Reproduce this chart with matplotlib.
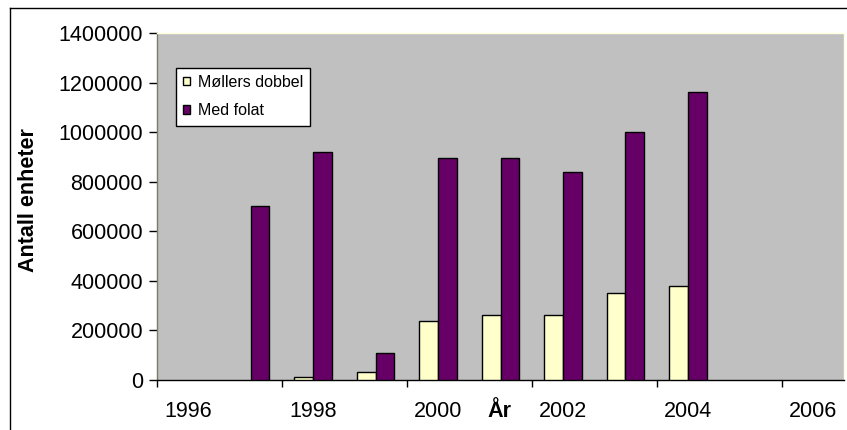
import matplotlib

matplotlib.use("Agg")
import matplotlib.pyplot as plt
import numpy as np
from matplotlib.lines import Line2D
from matplotlib.ticker import FixedLocator, NullFormatter

plt.rcParams["font.family"] = ["Liberation Sans", "DejaVu Sans"]

# Data
years = [1997, 1998, 1999, 2000, 2001, 2002, 2003, 2004]
mollers_dobbel = [np.nan, 12000, 31000, 238000, 264000, 264000, 352000, 379000]
med_folat = [703000, 920000, 107000, 895000, 895000, 840000, 1000000, 1163000]
label_years = [1996, 1998, 2000, 2002, 2004, 2006]
y_ticks = [0, 200000, 400000, 600000, 800000, 1000000, 1200000, 1400000]

W, H = 847, 430
fig = plt.figure(figsize=(W / 100, H / 100), dpi=100)
fig.patch.set_facecolor("white")

left, right, top, bottom = 157, 844, 33, 380
ax = fig.add_axes([left / W, 1 - bottom / H, (right - left) / W, (bottom - top) / H])
ax.set_facecolor("#C0C0C0")

yrs = np.array(years, dtype=float)
bw = 0.3
ax.bar(yrs - bw / 2, mollers_dobbel, width=bw, color="#FFFFCC",
       edgecolor="black", linewidth=1.0, label="Møllers dobbel", zorder=3)
ax.bar(yrs + bw / 2, med_folat, width=bw, color="#660066",
       edgecolor="black", linewidth=1.0, label="Med folat", zorder=3)

ax.set_xlim(1995.5, 2006.5)
ax.set_ylim(0, 1400000)

# boundaries get tick marks, year labels sit in between
ax.xaxis.set_major_locator(FixedLocator(np.arange(1995.5, 2006, 2.0)))
ax.xaxis.set_major_formatter(NullFormatter())
ax.xaxis.set_minor_locator(FixedLocator(label_years))
ax.set_xticklabels([str(y) for y in label_years], minor=True)
ax.tick_params(axis="x", which="major", direction="out", length=5, width=1,
               color="black")
ax.tick_params(axis="x", which="minor", length=0, pad=15, labelsize=15.5)

ax.set_yticks(y_ticks)
ax.set_yticklabels([str(v) for v in y_ticks])
ax.tick_params(axis="y", direction="out", length=6, width=1, color="black",
               pad=4, labelsize=15.5)

ax.spines["bottom"].set_color("black")
ax.spines["left"].set_color("#7A7A6A")
ax.spines["top"].set_color("#FFFFDD")
ax.spines["right"].set_color("#FFFFDD")
for s in ax.spines.values():
    s.set_linewidth(1.0)

leg = ax.legend(loc="upper left", bbox_to_anchor=(0.027, 0.90),
                fontsize=11.5, frameon=True, fancybox=False, framealpha=1,
                edgecolor="black", handlelength=0.45, handleheight=0.45,
                handletextpad=0.5, labelspacing=0.85, borderpad=0.45,
                borderaxespad=0)
leg.get_frame().set_linewidth(1.0)

fig.text(29 / W, 1 - 200 / H, "Antall enheter", rotation=90, fontsize=15.5,
         fontweight="bold", ha="center", va="center")
fig.text(499 / W, 1 - 417 / H, "År", fontsize=15.5, fontweight="bold",
         ha="center", va="baseline")

# outer chart frame (runs off the right and bottom edges)
fx, fy = 9.5 / W, 1 - 7.5 / H
fig.add_artist(Line2D([fx, 1.0], [fy, fy], color="black", lw=1.0,
                      transform=fig.transFigure))
fig.add_artist(Line2D([fx, fx], [fy, 0.0], color="black", lw=1.0,
                      transform=fig.transFigure))

fig.savefig("out.png", dpi=100)
plt.close(fig)
